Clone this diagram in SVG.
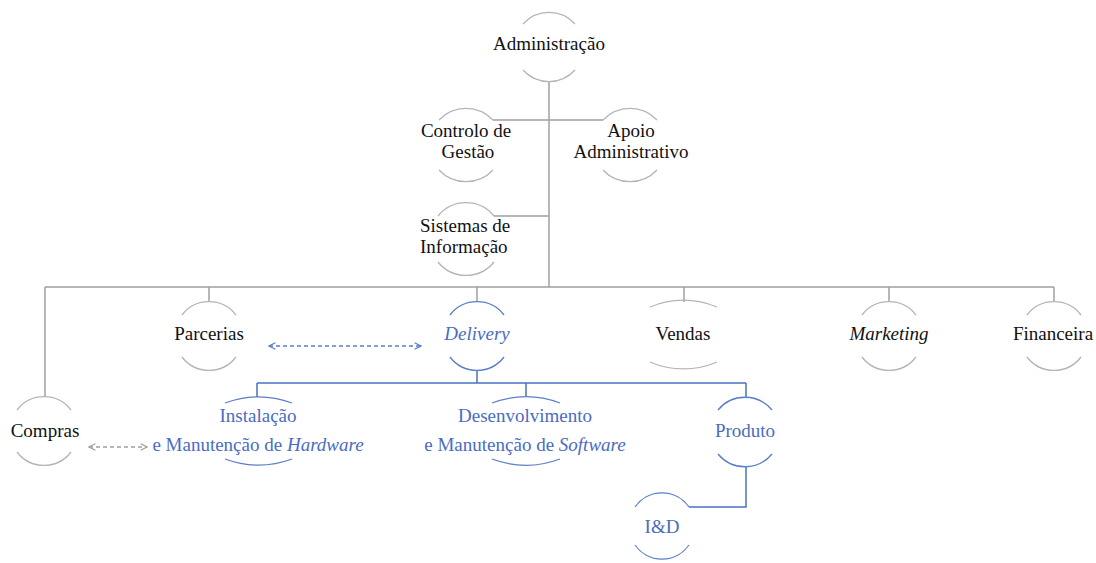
<svg xmlns="http://www.w3.org/2000/svg" width="1096" height="563" viewBox="0 0 1096 563">
<defs>
<style>
text{font-family:"Liberation Serif","Times New Roman",serif;font-size:19px;text-anchor:middle;fill:#111}
.b text,text.b{fill:#4a6cc2}
.arc{fill:none;stroke:#b5b5b5;stroke-width:1.3}
.b .arc{stroke:#5b7ec8}
.gl{fill:none;stroke:#a0a0a0;stroke-width:1.5}
.bl{fill:none;stroke:#4a72c4;stroke-width:1.5}
.it{font-style:italic}
</style>
<marker id="ga" viewBox="0 0 10 10" refX="9" refY="5" markerWidth="8" markerHeight="8" markerUnits="userSpaceOnUse" orient="auto-start-reverse"><path d="M1 1 L9 5 L1 9" fill="none" stroke="#a0a0a0" stroke-width="1.5"/></marker>
<marker id="ba" viewBox="0 0 10 10" refX="9" refY="5" markerWidth="8" markerHeight="8" markerUnits="userSpaceOnUse" orient="auto-start-reverse"><path d="M1 1 L9 5 L1 9" fill="none" stroke="#5b7ec8" stroke-width="1.5"/></marker>
</defs>
<rect width="1096" height="563" fill="#fff"/>
<g id="connectors">
<path class="gl" d="M549 82 V287 M493 120 H603 M494 216 H549 M45 287 H1054 M45 287 V397 M209 287 V302 M477 287 V301 M684 287 V302 M889 287 V301 M1054 287 V301"/>
<path class="bl" d="M477 370 V383 M257 383 H746 M257 383 V397 M526 383 V397 M746 383 V397 M746 467 V507 H689"/>
<path fill="none" stroke="#a0a0a0" stroke-width="1.3" stroke-dasharray="4 3" d="M89 447 H147" marker-start="url(#ga)" marker-end="url(#ga)"/>
<path fill="none" stroke="#5b7ec8" stroke-width="1.3" stroke-dasharray="4 3" d="M269 346 H421" marker-start="url(#ba)" marker-end="url(#ba)"/>
</g>
<g id="administracao">
<path class="arc" d="M523 24 A35 35 0 0 1 575 24 M523 70 A35 35 0 0 0 575 70"/>
<text x="549" y="50">Administração</text>
</g>
<g id="controlo">
<path class="arc" d="M439 120 A37 37 0 0 1 493 120 M439 170 A37 37 0 0 0 493 170"/>
<text x="466" y="137">Controlo de</text>
<text x="468" y="158">Gestão</text>
</g>
<g id="apoio">
<path class="arc" d="M603 120 A37 37 0 0 1 657 120 M603 170 A37 37 0 0 0 657 170"/>
<text x="631" y="137">Apoio</text>
<text x="631" y="158">Administrativo</text>
</g>
<g id="sistemas">
<path class="arc" d="M438 216 A36 36 0 0 1 494 216 M438 262 A36 36 0 0 0 494 262"/>
<text x="420" y="232" style="text-anchor:start">Sistemas de</text>
<text x="420" y="253" style="text-anchor:start">Informação</text>
</g>
<g id="parcerias">
<path class="arc" d="M182 315 A34 34 0 0 1 236 315 M182 357 A34 34 0 0 0 236 357"/>
<text x="209" y="340">Parcerias</text>
</g>
<g id="delivery" class="b">
<path class="arc" d="M450 315 A34 34 0 0 1 504 315 M450 357 A34 34 0 0 0 504 357"/>
<text x="477" y="340" class="it">Delivery</text>
</g>
<g id="vendas">
<path class="arc" d="M650 307 A84 84 0 0 1 717 307 M650 362 A84 84 0 0 0 717 362"/>
<text x="683" y="340">Vendas</text>
</g>
<g id="marketing">
<path class="arc" d="M862 315 A34 34 0 0 1 916 315 M862 357 A34 34 0 0 0 916 357"/>
<text x="889" y="340" class="it">Marketing</text>
</g>
<g id="financeira">
<path class="arc" d="M1027 315 A34 34 0 0 1 1081 315 M1027 357 A34 34 0 0 0 1081 357"/>
<text x="1053" y="340">Financeira</text>
</g>
<g id="compras">
<path class="arc" d="M17 410 A34 34 0 0 1 71 410 M17 452 A34 34 0 0 0 71 452"/>
<text x="45" y="437">Compras</text>
</g>
<g id="hardware" class="b">
<path class="arc" d="M225 403 A97 97 0 0 1 292 403 M225 459 A97 97 0 0 0 292 459"/>
<text x="258" y="422">Instalação</text>
<text x="258" y="451">e Manutenção de <tspan class="it">Hardware</tspan></text>
</g>
<g id="software" class="b">
<path class="arc" d="M492 403 A97 97 0 0 1 560 403 M492 459 A97 97 0 0 0 560 459"/>
<text x="525" y="422">Desenvolvimento</text>
<text x="525" y="451">e Manutenção de <tspan class="it">Software</tspan></text>
</g>
<g id="produto" class="b">
<path class="arc" d="M718 410 A35 35 0 0 1 772 410 M718 454 A35 35 0 0 0 772 454"/>
<text x="745" y="437">Produto</text>
</g>
<g id="ied" class="b">
<path class="arc" d="M635 507 A33 33 0 0 1 689 507 M635 545 A33 33 0 0 0 689 545"/>
<text x="662" y="533">I&amp;D</text>
</g>
</svg>
